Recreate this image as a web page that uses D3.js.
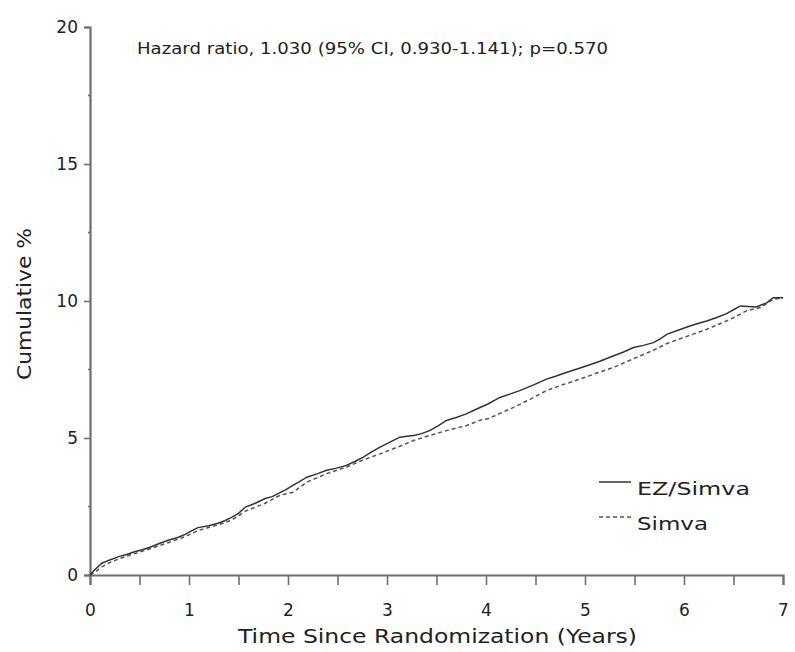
<!DOCTYPE html>
<html>
<head>
<meta charset="utf-8">
<script src="https://cdn.jsdelivr.net/npm/d3@7"></script>
<style>
  html, body { margin: 0; padding: 0; background: #fff; }
  svg { display: block; }
  text { font-family: "DejaVu Sans", sans-serif; fill: #222; }
</style>
</head>
<body>
<svg id="chart" width="795" height="652"></svg>
<script>
// ---- Data ----
const seriesNames = ["EZ/Simva", "Simva"];
const ezTime = [0,0.05,0.12,0.2,0.29,0.37,0.45,0.53,0.62,0.7,0.79,0.88,0.96,1.03,1.09,1.2,1.3,1.36,1.43,1.5,1.57,1.67,1.77,1.84,1.9,1.97,2.05,2.12,2.19,2.3,2.39,2.49,2.59,2.68,2.76,2.85,2.93,3.03,3.13,3.2,3.27,3.35,3.43,3.52,3.6,3.7,3.8,3.9,4.02,4.14,4.24,4.34,4.47,4.61,4.71,4.81,4.92,5.02,5.15,5.29,5.39,5.49,5.59,5.69,5.76,5.83,5.94,6.06,6.14,6.23,6.33,6.43,6.5,6.57,6.65,6.73,6.84,6.9,7.0];
const ezCum  = [0,0.2,0.43,0.55,0.67,0.75,0.85,0.92,1.03,1.15,1.27,1.36,1.48,1.62,1.73,1.8,1.9,1.98,2.1,2.25,2.48,2.62,2.79,2.86,2.97,3.1,3.27,3.42,3.57,3.7,3.82,3.9,4.0,4.15,4.3,4.5,4.67,4.85,5.03,5.06,5.09,5.16,5.27,5.45,5.64,5.75,5.88,6.05,6.24,6.48,6.6,6.73,6.92,7.15,7.26,7.39,7.52,7.64,7.8,8.0,8.14,8.3,8.38,8.48,8.62,8.79,8.93,9.09,9.18,9.27,9.4,9.54,9.68,9.82,9.8,9.78,9.94,10.12,10.12];
const simTime = [0,0.05,0.12,0.2,0.3,0.45,0.62,0.79,0.96,1.09,1.3,1.43,1.57,1.77,1.92,2.05,2.19,2.39,2.59,2.76,2.93,3.13,3.27,3.43,3.6,3.8,3.94,4.02,4.28,4.45,4.61,4.78,4.95,5.12,5.29,5.43,5.56,5.7,5.83,5.96,6.1,6.23,6.37,6.5,6.63,6.77,6.9,7.0];
const simCum  = [0,0.1,0.3,0.45,0.6,0.78,0.97,1.18,1.4,1.62,1.84,2.0,2.33,2.62,2.91,3.02,3.39,3.7,3.94,4.2,4.42,4.7,4.91,5.09,5.27,5.45,5.65,5.7,6.12,6.42,6.73,6.95,7.15,7.37,7.58,7.8,8.0,8.22,8.45,8.62,8.8,8.97,9.18,9.39,9.64,9.76,10.06,10.12];
const xTicks = [0,0.5,1,1.5,2,2.5,3,3.5,4,4.5,5,5.5,6,6.5,7];
const yMajorTicks = [0,5,10,15,20];
const yMinorTicks = [2.5,7.5,12.5,17.5];
const titleText = "Hazard ratio, 1.030 (95% CI, 0.930-1.141); p=0.570";
const xLabel = "Time Since Randomization (Years)";
const yLabel = "Cumulative %";

// ---- Chart ----
const svg = d3.select("#chart");
const x = d3.scaleLinear().domain([0, 7]).range([90, 783]);
const y = d3.scaleLinear().domain([0, 20]).range([575, 27]);
const axisColor = "#6e6e6e";

// x axis
const xAxis = svg.append("g").attr("transform", `translate(0,${y(0)})`)
  .call(d3.axisBottom(x).tickValues(xTicks).tickSize(10).tickPadding(19)
    .tickFormat(d => Number.isInteger(d) ? d3.format("d")(d) : ""));
xAxis.select(".domain").attr("stroke", axisColor).attr("stroke-width", 2.2);
xAxis.selectAll(".tick line").attr("stroke", axisColor).attr("stroke-width", 1.6);
xAxis.selectAll(".tick text").attr("font-size", 17).attr("font-family", "DejaVu Sans").attr("fill", "#222");

// y axis
const yAxis = svg.append("g").attr("transform", `translate(${x(0)},0)`)
  .call(d3.axisLeft(y).tickValues(yMajorTicks).tickSize(6).tickPadding(6).tickFormat(d3.format("d")));
yAxis.select(".domain").attr("stroke", axisColor).attr("stroke-width", 2.2);
yAxis.selectAll(".tick line").attr("stroke", axisColor).attr("stroke-width", 1.6);
yAxis.selectAll(".tick text").attr("font-size", 17).attr("font-family", "DejaVu Sans").attr("fill", "#222");
// minor y ticks
svg.append("g").selectAll("line").data(yMinorTicks).join("line")
  .attr("x1", x(0) - 2).attr("x2", x(0)).attr("y1", d => y(d)).attr("y2", d => y(d))
  .attr("stroke", axisColor).attr("stroke-width", 1.4);

// lines
const line = d3.line().x(d => x(d[0])).y(d => y(d[1])).curve(d3.curveLinear);
const ezData = ezTime.map((t, i) => [t, ezCum[i]]);
const simData = simTime.map((t, i) => [t, simCum[i]]);

svg.append("path").datum(simData).attr("d", line)
  .attr("fill", "none").attr("stroke", "#555").attr("stroke-width", 1.5)
  .attr("stroke-dasharray", "4,3");
svg.append("path").datum(ezData).attr("d", line)
  .attr("fill", "none").attr("stroke", "#333").attr("stroke-width", 1.5);

// title annotation
svg.append("text").attr("x", 137).attr("y", 54).attr("font-size", 16.5)
  .attr("textLength", 471).attr("lengthAdjust", "spacingAndGlyphs")
  .text(titleText);

// axis labels
svg.append("text").attr("x", 238).attr("y", 643).attr("font-size", 20)
  .attr("textLength", 399).attr("lengthAdjust", "spacingAndGlyphs")
  .text(xLabel);
svg.append("text").attr("transform", "translate(31,380) rotate(-90)")
  .attr("font-size", 20).attr("textLength", 152).attr("lengthAdjust", "spacingAndGlyphs")
  .text(yLabel);

// legend
const legend = svg.append("g");
const legendY = [482, 517];
const legendDash = [null, "4,3"];
const legendColor = ["#333", "#555"];
seriesNames.forEach((name, i) => {
  legend.append("line").attr("x1", 599).attr("x2", 631)
    .attr("y1", legendY[i]).attr("y2", legendY[i])
    .attr("stroke", legendColor[i]).attr("stroke-width", 1.5)
    .attr("stroke-dasharray", legendDash[i]);
  legend.append("text").attr("x", 637).attr("y", legendY[i] + 13)
    .attr("font-size", 18)
    .attr("textLength", i === 0 ? 113 : 71).attr("lengthAdjust", "spacingAndGlyphs")
    .text(name);
});
</script>
</body>
</html>
